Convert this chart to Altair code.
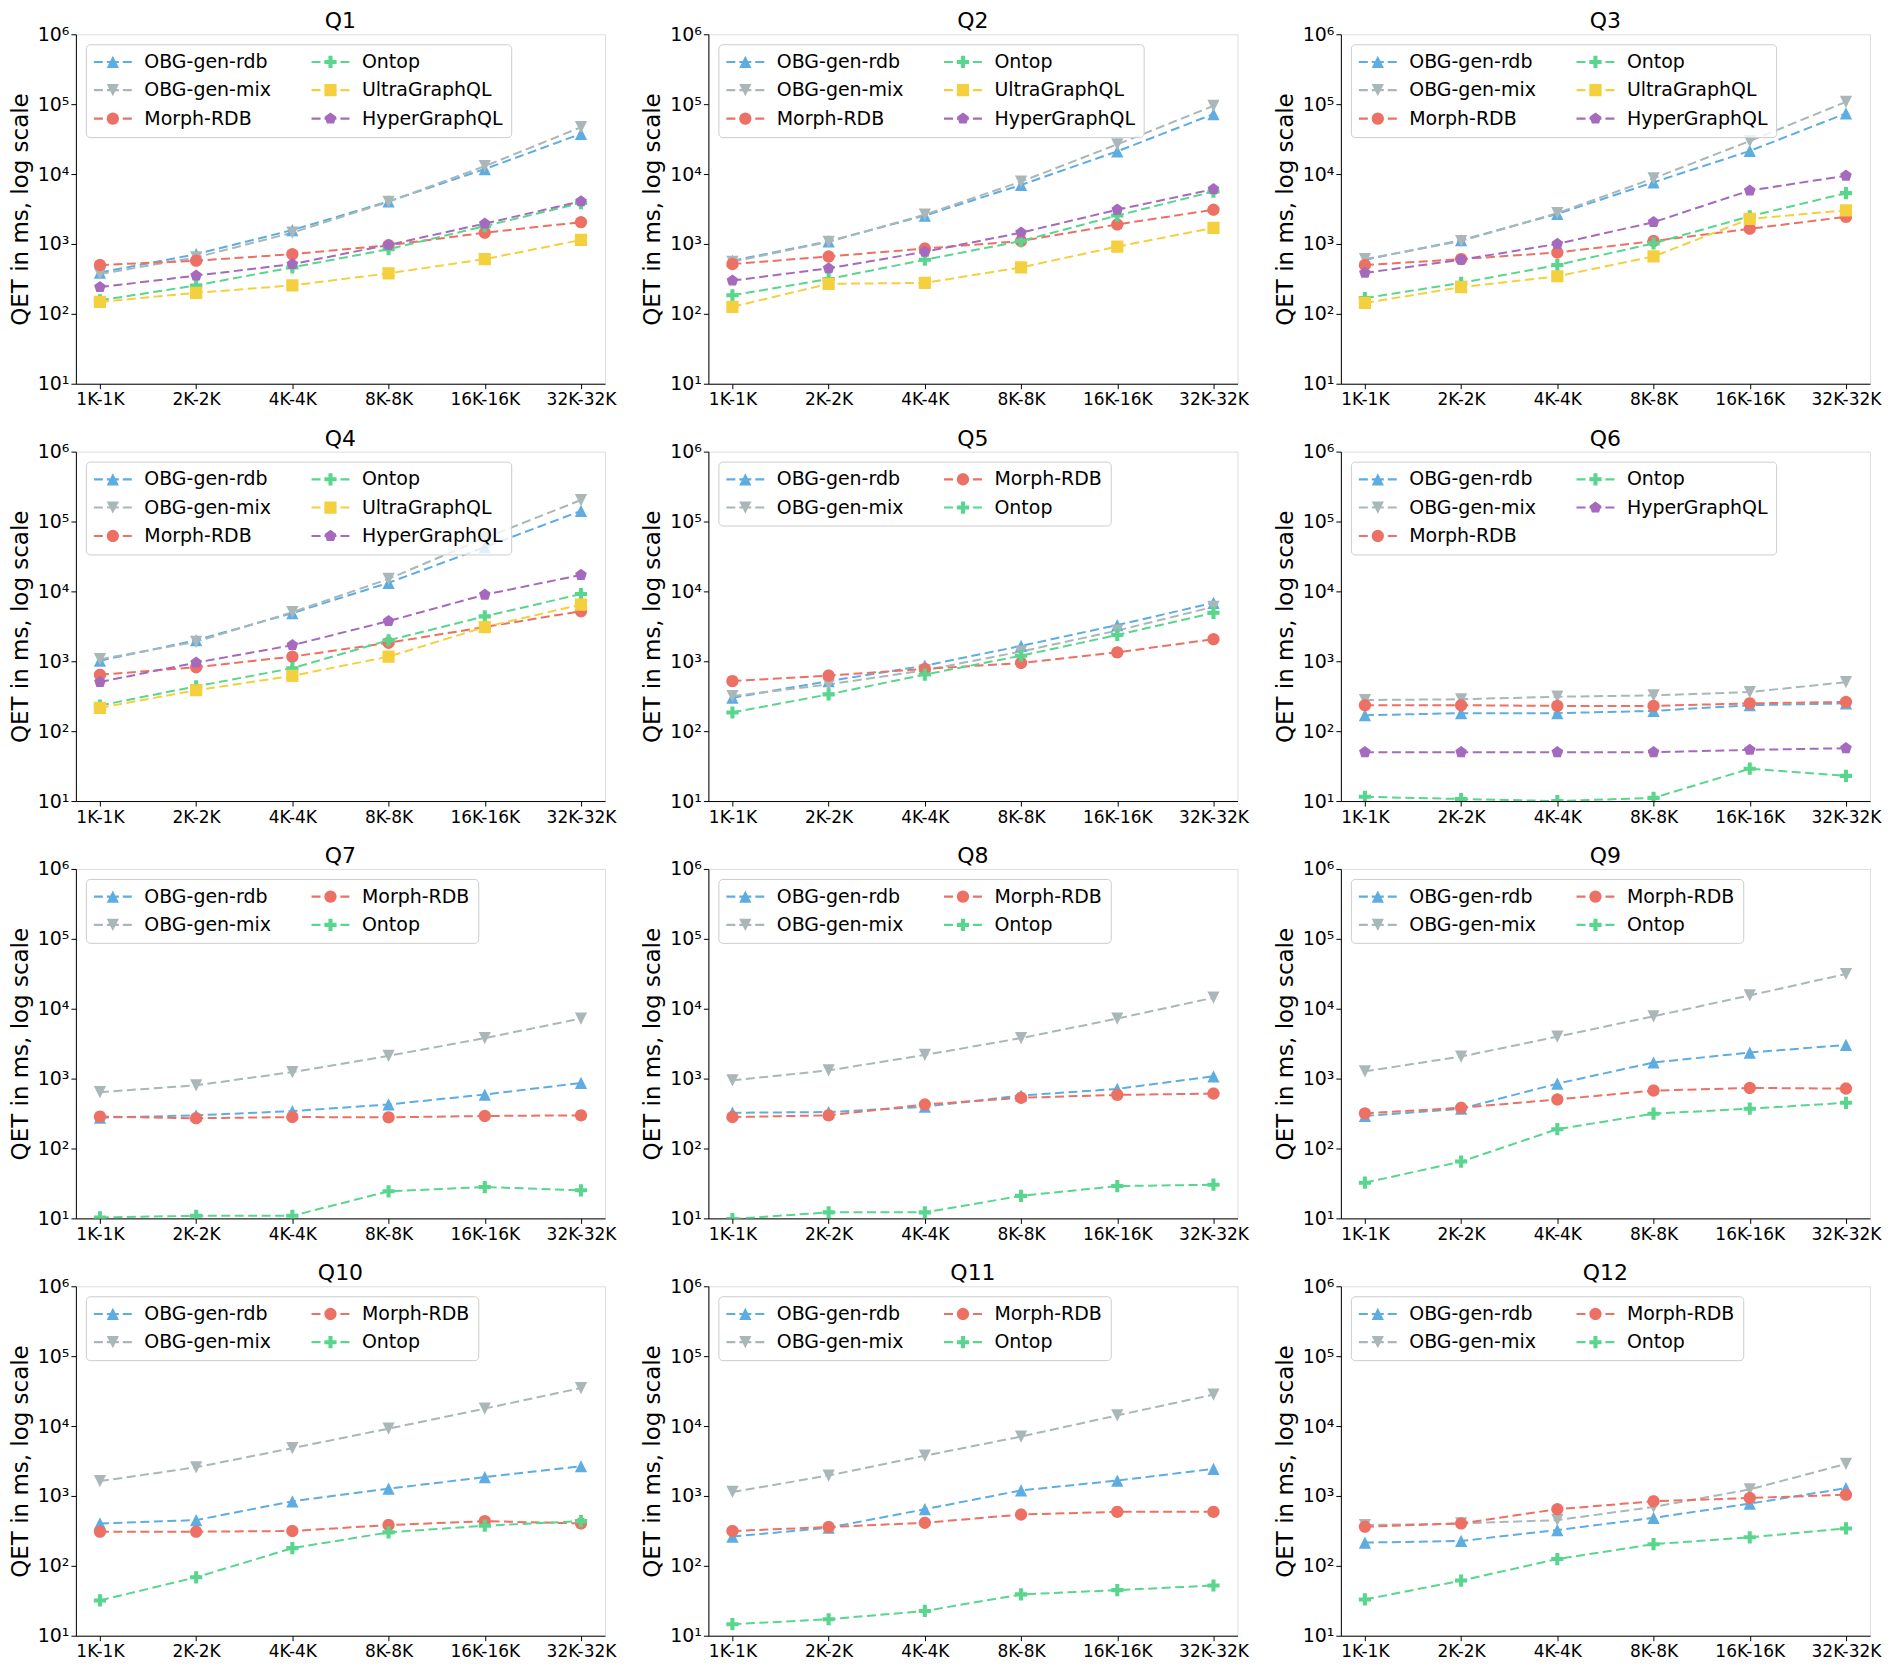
import math
import altair as alt
import pandas as pd

SCALES = ["1K-1K", "2K-2K", "4K-4K", "8K-8K", "16K-16K", "32K-32K"]
SYSTEMS = ["OBG-gen-rdb", "OBG-gen-mix", "Morph-RDB", "Ontop", "UltraGraphQL", "HyperGraphQL"]
COLORS = {
    "OBG-gen-rdb": "#5DADE2",
    "OBG-gen-mix": "#AAB7B8",
    "Morph-RDB": "#EC7063",
    "Ontop": "#58D68D",
    "UltraGraphQL": "#F4D03F",
    "HyperGraphQL": "#A569BD",
}

Q1 = {
    "OBG-gen-rdb": [390, 714, 1580, 4060, 11800, 37600],
    "OBG-gen-mix": [372, 641, 1450, 4000, 12970, 46800],
    "Morph-RDB": [499, 575, 714, 957, 1450, 2050],
    "Ontop": [156, 255, 462, 841, 1800, 3850],
    "UltraGraphQL": [148, 200, 255, 380, 607, 1140],
    "HyperGraphQL": [241, 352, 515, 970, 1960, 4060],
}
Q2 = {
    "OBG-gen-rdb": [575, 1090, 2550, 6990, 21150, 72200],
    "OBG-gen-mix": [556, 1070, 2630, 7800, 26600, 94700],
    "Morph-RDB": [515, 662, 859, 1100, 1900, 3090],
    "Ontop": [184, 316, 594, 1100, 2550, 5620],
    "UltraGraphQL": [126, 269, 277, 462, 916, 1700],
    "HyperGraphQL": [299, 448, 771, 1450, 3090, 6070],
}
Q3 = {
    "OBG-gen-rdb": [594, 1130, 2690, 7620, 21400, 73800],
    "OBG-gen-mix": [607, 1100, 2770, 8690, 29600, 108000],
    "Morph-RDB": [499, 607, 754, 1100, 1650, 2440],
    "Ontop": [168, 277, 499, 1020, 2490, 5330],
    "UltraGraphQL": [143, 241, 345, 662, 2280, 3030],
    "HyperGraphQL": [385, 594, 1000, 2050, 5810, 9470],
}
Q4 = {
    "OBG-gen-rdb": [1020, 2000, 4890, 13270, 42900, 141600],
    "OBG-gen-mix": [1070, 1900, 5040, 15100, 58100, 202600],
    "Morph-RDB": [641, 823, 1165, 1840, 3090, 5210],
    "Ontop": [233, 438, 796, 2000, 4390, 9160],
    "UltraGraphQL": [216, 385, 620, 1165, 3090, 6480],
    "HyperGraphQL": [505, 957, 1700, 3760, 8970, 17200],
}
Q5 = {
    "OBG-gen-rdb": [301, 520, 866, 1660, 3300, 6850],
    "OBG-gen-mix": [318, 466, 744, 1380, 2750, 6010],
    "Morph-RDB": [520, 625, 777, 945, 1340, 2070],
    "Ontop": [185, 336, 646, 1200, 2380, 4940],
}
Q6 = {
    "OBG-gen-rdb": [169, 181, 181, 195, 235, 250],
    "OBG-gen-mix": [279, 286, 311, 325, 363, 503],
    "Morph-RDB": [235, 235, 230, 230, 250, 262],
    "Ontop": [11.5, 10.7, 10.0, 11.1, 29.0, 22.9],
    "HyperGraphQL": [50, 50, 50, 50, 54, 57],
}
Q7 = {
    "OBG-gen-rdb": [276, 298, 343, 427, 592, 866],
    "OBG-gen-mix": [639, 803, 1240, 2120, 3800, 7230],
    "Morph-RDB": [286, 271, 282, 279, 292, 298],
    "Ontop": [10.3, 10.9, 10.9, 24.4, 28.1, 25.2],
}
Q8 = {
    "OBG-gen-rdb": [325, 332, 396, 573, 712, 1080],
    "OBG-gen-mix": [945, 1310, 2180, 3800, 7230, 14360],
    "Morph-RDB": [282, 298, 427, 531, 585, 611],
    "Ontop": [9.8, 12.2, 12.2, 21.0, 29.0, 30.3],
}
Q9 = {
    "OBG-gen-rdb": [292, 371, 847, 1700, 2360, 3030],
    "OBG-gen-mix": [1270, 2070, 3980, 7800, 15500, 31400],
    "Morph-RDB": [318, 383, 503, 674, 736, 720],
    "Ontop": [32.4, 65, 189, 315, 371, 451],
}
Q10 = {
    "OBG-gen-rdb": [404, 451, 838, 1270, 1860, 2660],
    "OBG-gen-mix": [1630, 2570, 4830, 9190, 17800, 35000],
    "Morph-RDB": [308, 308, 315, 383, 436, 404],
    "Ontop": [32, 68.6, 179, 301, 375, 436],
}
Q11 = {
    "OBG-gen-rdb": [262, 351, 646, 1200, 1660, 2440],
    "OBG-gen-mix": [1140, 1960, 3770, 7080, 14200, 28200],
    "Morph-RDB": [315, 359, 413, 542, 592, 592],
    "Ontop": [14.6, 17.2, 22.6, 39, 44.9, 52.3],
}
Q12 = {
    "OBG-gen-rdb": [215, 227, 325, 486, 777, 1290],
    "OBG-gen-mix": [383, 404, 451, 697, 1240, 2870],
    "Morph-RDB": [363, 404, 646, 838, 935, 1040],
    "Ontop": [33, 61.5, 125, 204, 256, 343],
}

QUERIES = [("Q1", Q1), ("Q2", Q2), ("Q3", Q3), ("Q4", Q4), ("Q5", Q5), ("Q6", Q6),
           ("Q7", Q7), ("Q8", Q8), ("Q9", Q9), ("Q10", Q10), ("Q11", Q11), ("Q12", Q12)]

Y_TICKS = [10, 100, 1000, 10000, 100000, 1000000]

# ---- marker shapes (unit coordinates, scaled by sqrt(size)/2) ----
def poly(pts):
    return "M" + "L".join(f"{x:.3f},{y:.3f}" for x, y in pts) + "Z"

CIRCLE = poly([(math.cos(2 * math.pi * k / 28), math.sin(2 * math.pi * k / 28)) for k in range(28)])
PENTA = poly([(math.cos(math.radians(-90 + 72 * k)), math.sin(math.radians(-90 + 72 * k))) for k in range(5)])
a = 1 / 3
PLUS = poly([(-a, -1), (a, -1), (a, -a), (1, -a), (1, a), (a, a), (a, 1), (-a, 1), (-a, a), (-1, a), (-1, -a), (-a, -a)])
MARKERS = {
    "OBG-gen-rdb": "M0,-1L1,1L-1,1Z",
    "OBG-gen-mix": "M0,1L-1,-1L1,-1Z",
    "Morph-RDB": CIRCLE,
    "Ontop": PLUS,
    "UltraGraphQL": "M-1,-1L1,-1L1,1L-1,1Z",
    "HyperGraphQL": PENTA,
}

def rect(x0, x1, t):
    return poly([(x0, -t), (x1, -t), (x1, t), (x0, t)])

DASHES = rect(-3.1, -1.63, 0.18) + rect(-0.98, 0.98, 0.18) + rect(1.63, 3.1, 0.18)
LEGEND_SHAPES = {s: DASHES + m for s, m in MARKERS.items()}

W, H = 530, 350
FONT = "DejaVu Sans"
MARK_SIZE = 150


def panel(title, series):
    order = [s for s in SYSTEMS if s in series]

    rows = []
    for s in order:
        for i, (sc, v) in enumerate(zip(SCALES, series[s])):
            rows.append({"scale": sc, "idx": i, "system": s, "value": v})
    df = pd.DataFrame(rows)

    color_scale = alt.Scale(domain=order, range=[COLORS[s] for s in order])
    x = alt.X("scale:N", sort=SCALES,
              scale=alt.Scale(type="point", padding=0.25),
              axis=alt.Axis(title=None, labelAngle=0, labelFontSize=17, labelFont=FONT,
                            labelColor="black", tickColor="black", tickSize=5,
                            domainColor="black", labelPadding=3, grid=False))
    y = alt.Y("value:Q",
              scale=alt.Scale(type="log", domain=[10, 1000000], nice=False),
              axis=alt.Axis(title="QET in ms, log scale", values=Y_TICKS,
                            labelExpr="'10' + ['⁰','¹','²','³','⁴','⁵','⁶'][round(log(datum.value)/LN10)]",
                            labelFontSize=19, labelFont=FONT, labelColor="black",
                            titleFontSize=23, titleFont=FONT, titleFontWeight="normal",
                            titleColor="black", titlePadding=5,
                            tickColor="black", tickSize=5, domainColor="black", grid=False))

    base = alt.Chart(df)
    lines = base.mark_line(strokeDash=[9, 4.5], strokeWidth=2, clip=True).encode(
        x=x, y=y, order="idx:Q",
        color=alt.Color("system:N", scale=color_scale, legend=None),
    )
    pts = base.mark_point(filled=True, size=MARK_SIZE, opacity=1, clip=True).encode(
        x=x, y=y,
        color=alt.Color("system:N", scale=color_scale, legend=None),
        shape=alt.Shape("system:N", scale=alt.Scale(domain=order, range=[MARKERS[s] for s in order]), legend=None),
    )
    legend = alt.Legend(title=None, orient="top-left", offset=10, columns=2,
                        columnPadding=40, rowPadding=8.5, padding=8,
                        fillColor="rgba(255,255,255,0.8)", strokeColor="#cccccc", cornerRadius=4,
                        labelFont=FONT, labelFontSize=19, labelColor="black", labelLimit=400,
                        symbolSize=MARK_SIZE, symbolStrokeWidth=0, symbolOffset=9.5, labelOffset=22)
    leg = alt.Chart(pd.DataFrame({"system": order})).transform_filter("false").mark_point(
        filled=True, opacity=1).encode(
        color=alt.Color("system:N", scale=color_scale, legend=legend),
        shape=alt.Shape("system:N", scale=alt.Scale(domain=order, range=[LEGEND_SHAPES[s] for s in order]),
                        legend=legend),
    )
    inner = alt.layer(lines, pts)
    return alt.layer(inner, leg).resolve_scale(color="independent", shape="independent").properties(
        width=W, height=H,
        title=alt.Title(text=title, fontSize=22, fontWeight="normal", font=FONT, color="black",
                        offset=-8, anchor="middle"),
    )


panels = [panel(t, s) for t, s in QUERIES]

chart = alt.concat(*panels, columns=3, spacing={"row": 68, "column": 103.5}, bounds="flush").resolve_scale(
    color="independent", shape="independent"
).properties(padding=0).configure_view(stroke="black", strokeWidth=1).configure(font=FONT, background="white")

chart.save("out.html", embed_options={"renderer": "svg", "actions": False})
